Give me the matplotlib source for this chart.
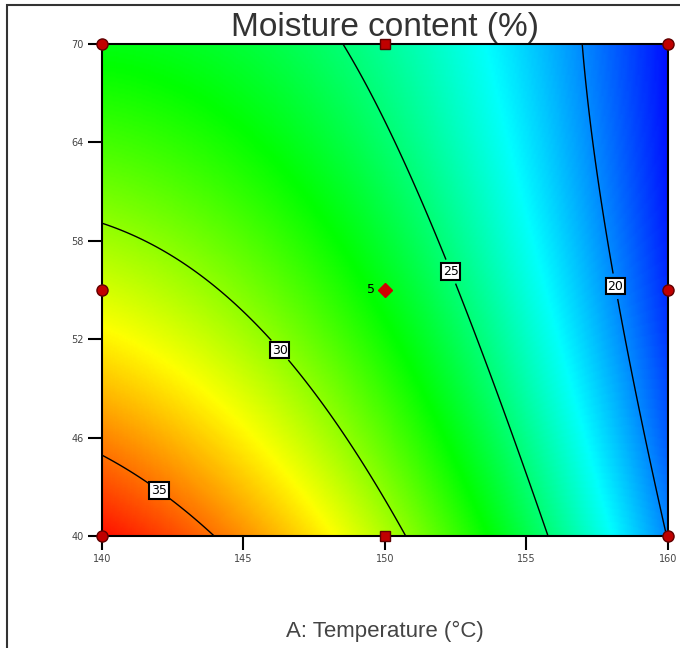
import matplotlib.pyplot as plt
import numpy as np
from matplotlib.colors import LinearSegmentedColormap
from matplotlib.patches import Rectangle

# fitted quadratic model in coded units (A: temperature, B: time)
# M = b0 + bA*A + bB*B + bAB*A*B + bAA*A^2 + bBB*B^2
b0, bA, bB, bAB, bAA, bBB = 26.86, -6.627, -3.145, 1.903, -2.163, 0.633

levels = [20, 25, 30, 35]
label_pos = [(158.06, 55.2), (152.3, 56.1), (146.4, 51.5), (142.26, 43.35)]

# design points
corner_x = [140, 140, 160, 160, 140, 160]
corner_y = [40, 70, 40, 70, 55, 55]
edge_x = [150, 150]
edge_y = [40, 70]
center = (150, 55)
center_runs = "5"

xticks = [140, 145, 150, 155, 160]
yticks = [40, 46, 52, 58, 64, 70]

T = np.linspace(140, 160, 300)
t = np.linspace(40, 70, 300)
TT, tt = np.meshgrid(T, t)
A = (TT - 150) / 10
B = (tt - 55) / 15
M = b0 + bA * A + bB * B + bAB * A * B + bAA * A**2 + bBB * B**2

cmap = LinearSegmentedColormap.from_list(
    "de", ["#0010ff", "#00ffff", "#00ff00", "#ffff00", "#ff1000"])

fig = plt.figure(figsize=(6.8, 6.48), dpi=100)
ax = fig.add_axes([0.15, 0.173, 0.832, 0.759])
ax.pcolormesh(TT, tt, M, cmap=cmap, shading="gouraud")
cs = ax.contour(TT, tt, M, levels=levels, colors="black", linewidths=1)
labels = ax.clabel(cs, fmt="%d", manual=label_pos, fontsize=9, inline=True)
for lb in labels:
    lb.set_rotation(0)
    lb.set_bbox(dict(facecolor="white", edgecolor="black", pad=1.2, linewidth=1.5))

ax.plot(corner_x, corner_y, "o", ms=8, color="#c00000", mec="#600000",
        clip_on=False, zorder=5)
ax.plot(edge_x, edge_y, "s", ms=7, color="#c00000", mec="#600000",
        clip_on=False, zorder=5)
ax.plot(*center, "D", ms=7, color="#d00000", mec="#d00000", zorder=5)
ax.text(center[0] - 0.35, center[1], center_runs, fontsize=9,
        ha="right", va="center")

ax.set_xlim(140, 160)
ax.set_ylim(40, 70)
ax.set_xticks(xticks)
ax.set_yticks(yticks)
ax.tick_params(direction="out", length=10, width=1.5, labelsize=7,
               labelcolor="#444444", pad=3)
for s in ax.spines.values():
    s.set_linewidth(1.5)

ax.set_title("Moisture content (%)", fontsize=24, color="#333333",
             fontfamily="Liberation Sans", pad=6)
ax.set_xlabel("A: Temperature (°C)", fontsize=16, color="#444444",
              fontfamily="Liberation Sans", labelpad=41)

fig.patches.append(Rectangle((0.0103, -0.1), 1.2, 1.092, transform=fig.transFigure,
                             fill=False, edgecolor="#333333", linewidth=1.5))

fig.savefig("out.png")
